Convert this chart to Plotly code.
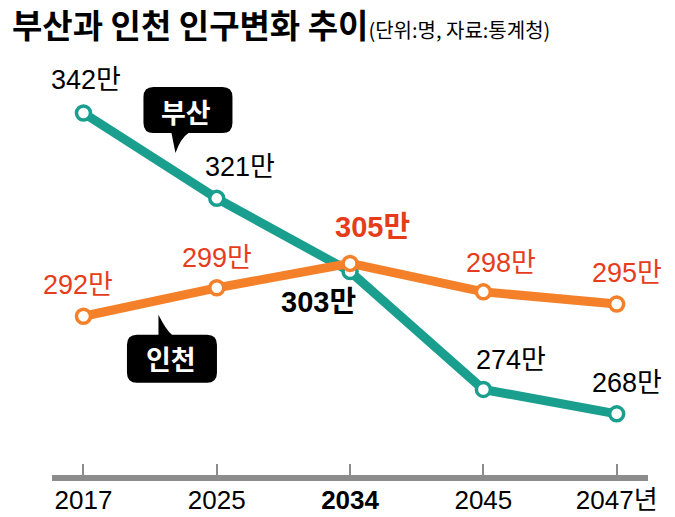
import plotly.graph_objects as go

# ---- data ----
years = ["2017", "2025", "2034", "2045", "2047"]
tick_labels = ["2017", "2025", "<b>2034</b>", "2045", "2047년"]
busan = [342, 321, 303, 274, 268]
incheon = [292, 299, 305, 298, 295]
unit = "만"
title_main = "부산과 인천 인구변화 추이"
title_sub = "(단위:명, 자료:통계청)"
busan_name = "부산"
incheon_name = "인천"

# ---- style ----
TEAL = "#1a9f8f"
ORANGE = "#f5802a"
ORANGE_TXT = "#e53d1c"
GRAY = "#8c8c8c"
NUM_FONT = "Liberation Sans Narrow, Arial Narrow, Liberation Sans, Noto Sans CJK KR, sans-serif"
KR_FONT = "Noto Sans CJK KR, Noto Sans, sans-serif"

x = list(range(len(years)))

fig = go.Figure()
for vals, col in ((busan, TEAL), (incheon, ORANGE)):
    fig.add_trace(go.Scatter(
        x=x, y=vals, mode="lines+markers",
        line=dict(color=col, width=9),
        marker=dict(size=14, color="white", line=dict(color=col, width=3.5)),
        hoverinfo="skip", showlegend=False,
    ))

# value labels (pixel offsets from the point, screen coords: dx right, dy down)
busan_off = [(3, -33), (23.5, -31.5), (-32, 30), (28, -29), (10, -31)]
incheon_off = [(-5, -31), (0, -30), (22, -36), (18, -29), (10, -31)]

annotations = []
for vals, offs, col in ((busan, busan_off, "black"), (incheon, incheon_off, ORANGE_TXT)):
    for i, (v, (dx, dy)) in enumerate(zip(vals, offs)):
        bold = i == 2
        txt = f"{v}{unit}"
        if bold:
            txt = f"<b>{txt}</b>"
        annotations.append(dict(
            x=x[i], y=v, xref="x", yref="y", text=txt, showarrow=False,
            xshift=dx, yshift=-dy, xanchor="center", yanchor="middle",
            font=dict(family=NUM_FONT, size=29 if bold else 27, color=col),
        ))


def bubble_path(left, top, right, bottom, r, tail, tail_side):
    """Rounded rectangle with a tail; screen coords (y down), converted to
    plotly pixel coords (y up)."""
    def p(px, py):
        return f"{px},{-py}"
    (bx0, bx1, tx, ty) = tail
    segs = [f"M{p(left + r, top)}"]
    if tail_side == "top":
        segs.append(f"L{p(bx0, top)}")
        segs.append(f"L{p(tx, ty)}")
        segs.append(f"Q{p(bx0 + (bx1 - bx0) * 0.55, top - (top - ty) * 0.25)} {p(bx1, top)}")
    segs.append(f"L{p(right - r, top)}")
    segs.append(f"Q{p(right, top)} {p(right, top + r)}")
    segs.append(f"L{p(right, bottom - r)}")
    segs.append(f"Q{p(right, bottom)} {p(right - r, bottom)}")
    if tail_side == "bottom":
        segs.append(f"L{p(bx1, bottom)}")
        segs.append(f"Q{p(bx0 + (bx1 - bx0) * 0.55, bottom + (ty - bottom) * 0.25)} {p(tx, ty)}")
        segs.append(f"L{p(bx0, bottom)}")
    segs.append(f"L{p(left + r, bottom)}")
    segs.append(f"Q{p(left, bottom)} {p(left, bottom - r)}")
    segs.append(f"L{p(left, top + r)}")
    segs.append(f"Q{p(left, top)} {p(left + r, top)}")
    segs.append("Z")
    return " ".join(segs)


shapes = [
    # 부산 bubble, anchored at the first Busan point
    dict(type="path", xref="x", yref="y", xsizemode="pixel", ysizemode="pixel",
         xanchor=x[0], yanchor=busan[0],
         path=bubble_path(60, -26, 149, 20, 10, (88, 105, 92, 40), "bottom"),
         fillcolor="black", line=dict(width=0), layer="above"),
    # 인천 bubble, anchored at the first Incheon point
    dict(type="path", xref="x", yref="y", xsizemode="pixel", ysizemode="pixel",
         xanchor=x[0], yanchor=incheon[0],
         path=bubble_path(43.5, 18.5, 133.5, 66.5, 10, (75, 88.5, 75, -1.5), "top"),
         fillcolor="black", line=dict(width=0), layer="above"),
]

annotations.append(dict(x=x[0], y=busan[0], xref="x", yref="y", text=f"<b>{busan_name}</b>",
                        showarrow=False, xshift=103, yshift=2,
                        font=dict(family=KR_FONT, size=27, color="white")))
annotations.append(dict(x=x[0], y=incheon[0], xref="x", yref="y", text=f"<b>{incheon_name}</b>",
                        showarrow=False, xshift=88, yshift=-42,
                        font=dict(family=KR_FONT, size=27, color="white")))

fig.update_layout(
    width=675, height=517,
    margin=dict(l=52, r=27, t=60, b=42, autoexpand=False),
    paper_bgcolor="white", plot_bgcolor="white",
    title=dict(
        text=f"<b>{title_main}</b><span style='font-size:20px'>{title_sub}</span>",
        x=12 / 675, xanchor="left", xref="container",
        y=1 - 26 / 517, yanchor="middle", yref="container",
        font=dict(family=KR_FONT, size=33, color="black"),
        automargin=False,
    ),
    xaxis=dict(
        range=[-0.236, 4.235], tickmode="array", tickvals=x, ticktext=tick_labels,
        showgrid=False, zeroline=False, showline=True, linecolor=GRAY, linewidth=6,
        ticks="inside", ticklen=11, tickwidth=2, tickcolor=GRAY, automargin=False,
        ticklabelstandoff=-3,
        tickfont=dict(family=NUM_FONT, size=26, color="black"), fixedrange=True,
    ),
    yaxis=dict(range=[252.95, 355.04], visible=False, showgrid=False, zeroline=False,
               fixedrange=True, automargin=False),
    annotations=annotations,
    shapes=shapes,
)

fig.write_html("out.html")
